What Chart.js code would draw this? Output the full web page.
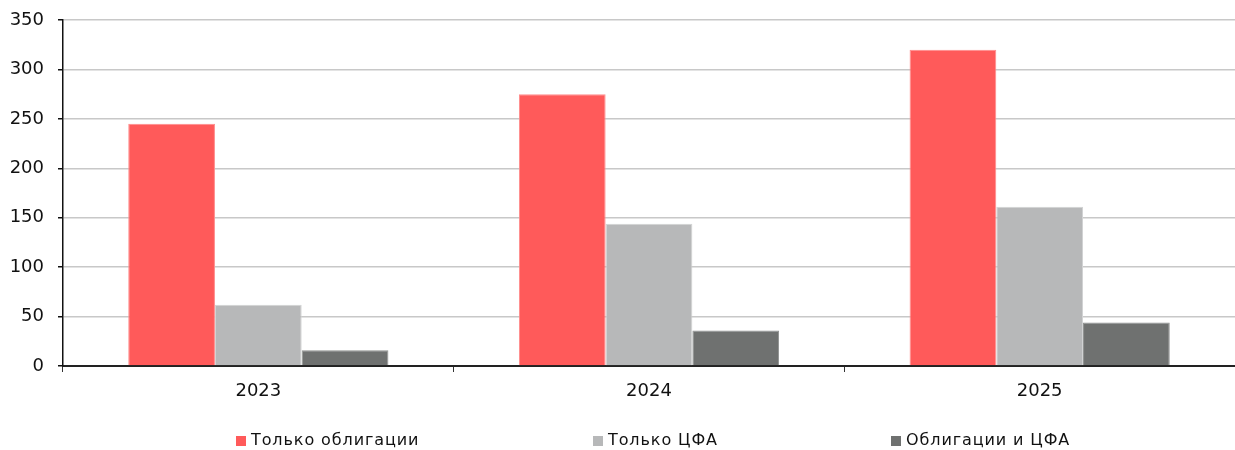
<!DOCTYPE html>
<html lang="ru">
<head>
<meta charset="utf-8">
<title>Эмитенты: облигации и ЦФА</title>
<script src="https://cdn.jsdelivr.net/npm/chart.js@4.4.1/dist/chart.umd.min.js"></script>
<style>
  html, body { margin: 0; padding: 0; background: #fff; }
  #wrap { position: relative; width: 1235px; height: 450px; }
</style>
</head>
<body>
<div id="wrap"><canvas id="chart" width="1235" height="450"></canvas></div>
<script>
// Years on the category axis
const years = ['2023', '2024', '2025'];

// Number of issuers per group
const onlyBonds = [245, 275, 320];
const onlyDfa = [62, 144, 161];
const bondsAndDfa = [16, 36, 44];

// Series names
const seriesNames = ['Только облигации', 'Только ЦФА', 'Облигации и ЦФА'];

// Value axis settings
const yMax = 350;
const yStep = 50;

const FONT = '"DejaVu Sans", sans-serif';
const colors = ['#FF5A5A', '#B7B8B9', '#6F7170'];
const edges = ['#FF8C8C', '#D2D3D4', '#8E908F'];

// Legend laid out across the bottom strip, each entry starting at a fixed share of the width
const legendStarts = [236 / 1235, 593 / 1235, 891 / 1235];
const bottomLegend = {
  id: 'bottomLegend',
  afterDraw(chart) {
    const ctx = chart.ctx;
    const y = 441;
    ctx.save();
    ctx.font = '16px ' + FONT;
    if ('letterSpacing' in ctx) ctx.letterSpacing = '0.9px';
    ctx.textBaseline = 'middle';
    ctx.textAlign = 'left';
    chart.data.datasets.forEach((ds, i) => {
      const x = Math.round(chart.width * legendStarts[i]);
      ctx.fillStyle = ds.backgroundColor;
      ctx.fillRect(x, y - 5, 10, 10);
      ctx.fillStyle = '#111';
      ctx.fillText(ds.label, x + 15, y);
    });
    ctx.restore();
  }
};

const values = [onlyBonds, onlyDfa, bondsAndDfa];

new Chart(document.getElementById('chart'), {
  type: 'bar',
  data: {
    labels: years,
    datasets: seriesNames.map((name, i) => ({
      label: name,
      data: values[i],
      backgroundColor: colors[i],
      borderColor: edges[i],
      borderWidth: 1,
      barPercentage: 1,
      categoryPercentage: 0.666
    }))
  },
  options: {
    responsive: false,
    animation: false,
    layout: { padding: { top: 20, right: -7, left: 0, bottom: 0 } },
    plugins: { legend: { display: false }, tooltip: { enabled: false } },
    scales: {
      x: {
        afterFit(s) { s.height = 84; },
        border: { display: true, color: '#222', width: 2 },
        grid: { offset: true, drawOnChartArea: false, drawTicks: true, tickLength: 6, color: '#333', tickColor: '#333', lineWidth: 1 },
        ticks: { color: '#111', padding: 9, font: { family: FONT, size: 18 } }
      },
      y: {
        min: 0,
        max: yMax,
        afterFit(s) { s.width = 63; s.paddingTop = 0; s.paddingBottom = 0; },
        border: { display: true, color: '#111', width: 1.5 },
        grid: { color: '#C8C8C8', lineWidth: 1.5, tickColor: '#111', tickLength: 5, drawTicks: true },
        ticks: { stepSize: yStep, color: '#111', padding: 14, font: { family: FONT, size: 18 } }
      }
    }
  },
  plugins: [bottomLegend]
});
</script>
</body>
</html>
